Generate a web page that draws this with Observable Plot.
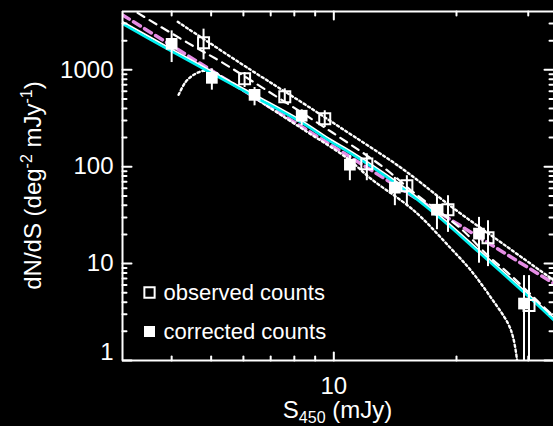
<!DOCTYPE html>
<html><head><meta charset="utf-8">
<script src="https://cdn.jsdelivr.net/npm/d3@7"></script>
<script src="https://cdn.jsdelivr.net/npm/@observablehq/plot@0.6"></script>
<style>
html,body{margin:0;padding:0;background:#000;}
#chart{width:553px;height:426px;overflow:hidden;background:#000;}
</style></head><body><div id="chart"></div>
<script>
// ---- data ----
const obsS  = [4.79, 6.04, 7.58, 9.50, 12.05, 15.11, 19.06, 23.90, 30.13];
const obsN  = [1898, 808, 527, 312, 107, 63.7, 36.0, 18.5, 3.69];
const obsHi = [2630, 938, 637, 378, 136, 80.8, 50.2, 27.7, 7.52];
const obsLo = [1268, 657, 446, 254, 71.7, 38.7, 21.0, 9.31, 0.5];

const corS  = [4.00, 5.02, 6.39, 8.34, 10.95, 14.12, 17.91, 22.71, 29.29];
const corN  = [1854, 827, 552, 336, 105, 60.8, 36.0, 20.4, 3.87];
const corHi = [2524, 1024, 657, 387, 130, 77.6, 50.2, 30.0, 7.52];
const corLo = [1189, 617, 425, 265, 71.7, 39.6, 22.4, 10.1, 0.5];

// model curves
const cyanS = [3.03, 3.98, 4.99, 6.40, 8.34, 9.83, 10.95, 14.12, 17.91, 22.59, 29.29, 34.7];
const cyanN = [2980, 1570, 931, 527, 284, 181, 139, 68.4, 31.3, 13.3, 5.02, 2.59];
const whiteN = [3130, 1650, 978, 553, 298, 190, 146, 71.8, 32.9, 14.0, 5.27, 2.72];

const pinkS = [3.03, 18.3, 34.7];
const pinkN = [3690, 32.8, 6.22];

const dashS = [3.30, 4.38, 5.34, 6.69, 9.94, 13.27, 15.73, 20.51, 23.89, 27.22, 31.9, 34.7];
const dashN = [3870, 1898, 1181, 652, 224, 97.7, 53.9, 22.9, 12.1, 7.52, 3.96, 2.84];

const upS = [4.14, 6.25, 8.30, 10.40, 14.61, 19.72, 26.17, 34.7];
const upN = [3126, 1000, 468, 252, 97.7, 36.9, 15.7, 6.68];

const loS = [4.16, 4.33, 4.53, 4.79, 5.04, 5.58, 6.08, 6.62, 8.30, 10.82, 12.33, 15.73, 19.39, 21.71, 24.30, 26.76, 27.54, 28.17, 28.3];
const loN = [552, 752, 888, 977, 954, 734, 593, 468, 252, 121, 75.2, 35.2, 14.3, 8.47, 4.46, 2.41, 1.73, 1.0, 0.8];

// axes
const xDomain = [3.03, 34.6];
const yDomain = [1, 4000];
const xMajor = [10];
const xMinor = [4, 5, 6, 7, 8, 9, 20, 30];
const yMajor = [1, 10, 100, 1000];
const yMinor = [2,3,4,5,6,7,8,9,20,30,40,50,60,70,80,90,200,300,400,500,600,700,800,900,2000,3000];
const xLabels = [10];
const yLabels = [10, 100, 1000];
const yLabelBottom = [1];
const legendLabels = ["observed counts", "corrected counts"];

// ---- build ----
const pts = (xs, ys) => xs.map((x, i) => ({x, y: ys[i]}));
const obs = obsS.map((s, i) => ({s, n: obsN[i], lo: obsLo[i], hi: obsHi[i]}));
const cor = corS.map((s, i) => ({s, n: corN[i], lo: corLo[i], hi: corHi[i]}));

const font = "Liberation Sans, Arial, Helvetica, sans-serif";
const tickShape = {draw(ctx, l) { ctx.moveTo(0, 0); ctx.lineTo(0, -l); }};
const ticks = (data, ch, anchor, rotate, len) =>
  Plot.vector(data, {[ch]: d => d, frameAnchor: anchor, rotate, length: len, anchor: "start",
    shape: tickShape, stroke: "white", strokeWidth: 2});
const dotted = {stroke: "white", strokeWidth: 2.4, strokeDasharray: "2.2,2.8", curve: "catmull-rom", clip: true};

const W = 553, H = 426, ML = 122, MR = 0, MT = 11, MB = 66;

const plot = Plot.plot({
  width: W, height: H,
  marginLeft: ML, marginRight: MR, marginTop: MT, marginBottom: MB,
  style: {background: "black", color: "white", fontFamily: font, overflow: "visible"},
  x: {type: "log", domain: xDomain},
  y: {type: "log", domain: yDomain},
  marks: [
    // curves
    Plot.line(pts(pinkS, pinkN), {x: "x", y: "y", stroke: "#e58de5", strokeWidth: 3.5, strokeDasharray: "8,5", clip: true}),
    Plot.line(pts(dashS, dashN), {x: "x", y: "y", stroke: "white", strokeWidth: 2.2, strokeDasharray: "8,6", curve: "catmull-rom", clip: true}),
    Plot.line(pts(upS, upN), {x: "x", y: "y", ...dotted}),
    Plot.line(pts(loS, loN), {x: "x", y: "y", ...dotted}),
    Plot.line(pts(cyanS, whiteN), {x: "x", y: "y", stroke: "white", strokeWidth: 2, curve: "catmull-rom", clip: true}),
    Plot.line(pts(cyanS, cyanN), {x: "x", y: "y", stroke: "#00f0f0", strokeWidth: 2.5, curve: "catmull-rom", clip: true}),
    // error bars
    Plot.ruleX(obs, {x: "s", y1: "lo", y2: "hi", stroke: "white", strokeWidth: 2, clip: true}),
    Plot.ruleX(cor, {x: "s", y1: "lo", y2: "hi", stroke: "white", strokeWidth: 2, clip: true}),
    // points
    Plot.dot(obs, {x: "s", y: "n", symbol: "square", r: 6.2, stroke: "white", strokeWidth: 2, fill: "none"}),
    Plot.dot(cor, {x: "s", y: "n", symbol: "square", r: 6.6, fill: "white", stroke: "none"}),
    // frame (left, top, bottom)
    Plot.ruleX([xDomain[0]], {stroke: "white", strokeWidth: 2}),
    Plot.ruleY([yDomain[0]], {stroke: "white", strokeWidth: 2}),
    Plot.ruleY([yDomain[1]], {stroke: "white", strokeWidth: 2}),
    // ticks
    ticks(xMajor, "x", "bottom", 0, 8), ticks(xMinor, "x", "bottom", 0, 4),
    ticks(xMajor, "x", "top", 180, 8), ticks(xMinor, "x", "top", 180, 4),
    ticks(yMajor, "y", "left", 90, 9), ticks(yMinor, "y", "left", 90, 4),
    ticks(yMajor, "y", "right", -90, 9), ticks(yMinor, "y", "right", -90, 4),
    // tick labels
    Plot.axisX(xLabels, {anchor: "bottom", tickSize: 0, tickPadding: 16, fontSize: 24, tickFormat: d => String(d), label: null}),
    Plot.axisY(yLabels, {anchor: "left", tickSize: 0, tickPadding: 9, fontSize: 24, tickFormat: d => String(d), label: null}),
    Plot.axisY(yLabelBottom, {anchor: "left", tickSize: 0, tickPadding: 9, fontSize: 24, dy: -8, tickFormat: d => String(d), label: null}),
    // legend
    Plot.dot([legendLabels[0]], {frameAnchor: "top-left", dx: 27, dy: 281, symbol: "square", r: 5.8, stroke: "white", strokeWidth: 2, fill: "none"}),
    Plot.dot([legendLabels[1]], {frameAnchor: "top-left", dx: 27, dy: 320, symbol: "square", r: 6.2, fill: "white", stroke: "none"}),
    Plot.text([legendLabels[0]], {frameAnchor: "top-left", dx: 41, dy: 281, text: d => d, textAnchor: "start", lineAnchor: "middle", fill: "white", fontSize: 22}),
    Plot.text([legendLabels[1]], {frameAnchor: "top-left", dx: 41, dy: 320, text: d => d, textAnchor: "start", lineAnchor: "middle", fill: "white", fontSize: 22})
  ]
});

document.getElementById("chart").appendChild(plot);

// axis titles with sub/superscripts
const s = d3.select(plot);
const cx = (ML + (W - MR)) / 2;
const cy = (MT + (H - MB)) / 2;
const xt = s.append("text").attr("x", cx).attr("y", 418).attr("text-anchor", "middle")
  .attr("fill", "white").attr("font-size", 24).attr("font-family", font);
xt.append("tspan").text("S");
xt.append("tspan").attr("font-size", 16).attr("dy", 5).text("450");
xt.append("tspan").attr("dy", -5).text(" (mJy)");

const yt = s.append("text").attr("transform", `translate(41,${cy}) rotate(-90)`).attr("text-anchor", "middle")
  .attr("fill", "white").attr("font-size", 24).attr("font-family", font);
yt.append("tspan").text("dN/dS (deg");
yt.append("tspan").attr("font-size", 16).attr("dy", -9).text("-2");
yt.append("tspan").attr("dy", 9).text(" mJy");
yt.append("tspan").attr("font-size", 16).attr("dy", -9).text("-1");
yt.append("tspan").attr("dy", 9).text(")");
</script></body></html>
